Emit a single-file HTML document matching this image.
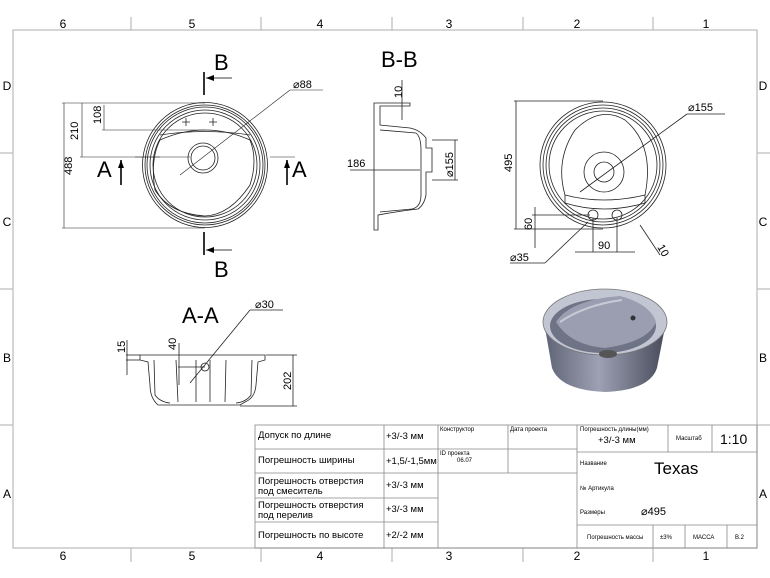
<!DOCTYPE html>
<html><head><meta charset="utf-8"><style>
html,body{margin:0;padding:0;background:#fff}
svg{display:block}
text{font-family:"Liberation Sans",sans-serif;fill:#000}
.t{font-family:"DejaVu Sans Condensed","Liberation Sans",sans-serif}
</style></head><body>
<svg width="770" height="578" viewBox="0 0 770 578" xmlns="http://www.w3.org/2000/svg">
<g stroke="#bbb" stroke-width="1.2" fill="none">
<rect x="13" y="30" width="744" height="518"/>
<line x1="131" y1="17" x2="131" y2="30"/><line x1="261" y1="17" x2="261" y2="30"/><line x1="392" y1="17" x2="392" y2="30"/><line x1="523" y1="17" x2="523" y2="30"/><line x1="653" y1="17" x2="653" y2="30"/>
<line x1="131" y1="548" x2="131" y2="562"/><line x1="261" y1="548" x2="261" y2="562"/><line x1="392" y1="548" x2="392" y2="562"/><line x1="523" y1="548" x2="523" y2="562"/><line x1="653" y1="548" x2="653" y2="562"/>
<line x1="0" y1="153" x2="13" y2="153"/><line x1="0" y1="289" x2="13" y2="289"/><line x1="0" y1="425" x2="13" y2="425"/>
<line x1="757" y1="153" x2="770" y2="153"/><line x1="757" y1="289" x2="770" y2="289"/><line x1="757" y1="425" x2="770" y2="425"/>
</g>
<g font-size="12" text-anchor="middle">
<text x="63" y="28">6</text><text x="192" y="28">5</text><text x="320" y="28">4</text><text x="449" y="28">3</text><text x="577" y="28">2</text><text x="706" y="28">1</text>
<text x="63" y="560">6</text><text x="192" y="560">5</text><text x="320" y="560">4</text><text x="449" y="560">3</text><text x="577" y="560">2</text><text x="706" y="560">1</text>
<text x="7" y="90">D</text><text x="7" y="226">C</text><text x="7" y="362">B</text><text x="7" y="498">A</text>
<text x="763" y="90">D</text><text x="763" y="226">C</text><text x="763" y="362">B</text><text x="763" y="498">A</text>
</g>

<!-- Left top view -->
<g stroke="#222" stroke-width="0.8" fill="none">
<circle cx="205" cy="165" r="62.5"/><circle cx="205" cy="165" r="60"/><circle cx="205" cy="165" r="58"/><circle cx="205" cy="165" r="55"/><circle cx="205" cy="165" r="52"/>
<path d="M160,140 Q205,120 250,140 Q258,160 250,185 Q230,215 205,216 Q170,214 155,190 Q150,160 160,140Z"/>
<path d="M160,135 Q205,128 250,135"/>
<circle cx="203" cy="158" r="15"/><circle cx="203" cy="158" r="12"/>
<path d="M186,118 v8 M182,122 h8 M213,118 v8 M209,122 h8"/>
</g>
<g stroke="#222" stroke-width="0.6" fill="none">
<line x1="62" y1="103" x2="205" y2="103"/><line x1="62" y1="228" x2="205" y2="228"/><line x1="64" y1="103" x2="64" y2="228"/>
<line x1="82" y1="103" x2="82" y2="157"/><line x1="80" y1="157" x2="190" y2="157"/>
<line x1="104" y1="105" x2="104" y2="130"/><line x1="102" y1="130" x2="205" y2="130"/>
<line x1="180" y1="175" x2="290" y2="90"/><line x1="290" y1="90" x2="323" y2="90"/>
<line x1="135" y1="157" x2="160" y2="157"/><line x1="270" y1="157" x2="295" y2="157"/>
</g>
<g stroke="#000" stroke-width="1.6"><line x1="204" y1="72" x2="204" y2="95"/><line x1="204" y1="232" x2="204" y2="255"/><line x1="121" y1="160" x2="121" y2="185"/><line x1="287" y1="160" x2="287" y2="185"/></g>
<g stroke="#000" stroke-width="0.8"><line x1="206" y1="78" x2="232" y2="78"/><line x1="206" y1="250" x2="232" y2="250"/></g>
<g fill="#000"><path d="M206,78 l8,-3 v6z"/><path d="M206,250 l8,-3 v6z"/><path d="M121,160 l-3,8 h6z"/><path d="M287,160 l-3,8 h6z"/></g>
<g font-size="22"><text x="214" y="70">B</text><text x="214" y="277">B</text><text x="97" y="177">A</text><text x="292" y="177">A</text></g>
<g font-size="11"><text x="293" y="88">⌀88</text>
<text transform="translate(72,175) rotate(-90)">488</text>
<text transform="translate(78,140) rotate(-90)">210</text>
<text transform="translate(101,124) rotate(-90)">108</text></g>

<!-- B-B -->
<text x="381" y="67" font-size="22">B-B</text>
<g stroke="#222" stroke-width="0.8" fill="none">
<path d="M374,103 L374,230 L378,230 L378,215 Q400,211 418,209 Q424,205 426,195 L426,172 L432,172 L432,148 L426,148 L426,138 Q420,130 410,128 L380,125 L380,106 L410,106 L410,103Z"/>
<path d="M380,130 L416,133 Q421,137 421,150 L421,195 Q421,207 412,209 L380,212"/>
<line x1="350" y1="170" x2="420" y2="170"/><line x1="432" y1="140" x2="458" y2="140"/><line x1="432" y1="180" x2="458" y2="180"/><line x1="455" y1="140" x2="455" y2="180"/>
<line x1="402" y1="80" x2="402" y2="120"/>
</g>
<g font-size="11"><text x="347" y="167">186</text><text transform="translate(402,98) rotate(-90)">10</text><text transform="translate(453,177) rotate(-90)">⌀155</text></g>

<!-- Right top view -->
<g stroke="#222" stroke-width="0.8" fill="none">
<circle cx="603" cy="165" r="63"/><circle cx="603" cy="165" r="60"/><circle cx="603" cy="165" r="57"/><circle cx="603" cy="165" r="54"/>
<path d="M565,195 Q555,160 575,130 Q600,105 625,120 Q655,145 645,195"/>
<path d="M565,195 Q603,205 645,195 L645,203 Q603,215 565,203Z"/>
<circle cx="604" cy="172" r="20"/><circle cx="604" cy="172" r="10"/>
<circle cx="593" cy="215" r="5"/><circle cx="617" cy="215" r="5"/>
<line x1="514" y1="101" x2="603" y2="101"/><line x1="514" y1="229" x2="603" y2="229"/><line x1="516" y1="101" x2="516" y2="229"/>
<line x1="532" y1="215" x2="590" y2="215"/><line x1="535" y1="207" x2="535" y2="248"/>
<line x1="593" y1="218" x2="593" y2="252"/><line x1="617" y1="218" x2="617" y2="252"/><line x1="575" y1="252" x2="635" y2="252"/>
<line x1="580" y1="192" x2="687" y2="114"/><line x1="687" y1="114" x2="725" y2="114"/>
<line x1="640" y1="225" x2="660" y2="255"/><line x1="588" y1="222" x2="545" y2="263"/><line x1="510" y1="263" x2="545" y2="263"/>
</g>
<g font-size="11"><text x="688" y="111">⌀155</text><text transform="translate(512,172) rotate(-90)">495</text><text transform="translate(532,230) rotate(-90)">60</text><text x="598" y="249">90</text><text transform="translate(657,247) rotate(60)">10</text><text x="510" y="261">⌀35</text></g>

<!-- 3D render -->
<defs><linearGradient id="g1" x1="0" x2="1"><stop offset="0" stop-color="#5e6275"/><stop offset="0.45" stop-color="#9da1b3"/><stop offset="1" stop-color="#464a5a"/></linearGradient></defs>
<path d="M544,322 L552,368 Q560,390 605,392 Q650,390 657,368 L666,322Z" fill="url(#g1)"/>
<ellipse cx="605" cy="322" rx="62" ry="33" fill="#c2c5d2" stroke="#777" stroke-width="0.8"/>
<ellipse cx="603" cy="326" rx="53" ry="27" fill="#6f7386"/>
<path d="M556,322 Q570,300 620,296 Q650,304 656,322 Q648,342 605,348 Q570,345 556,322Z" fill="#9a9eb0"/>
<path d="M560,322 Q585,305 622,300" stroke="#c8cbd6" fill="none" stroke-width="2"/>
<circle cx="633" cy="318" r="2.5" fill="#333"/>
<ellipse cx="608" cy="354" rx="9" ry="4" fill="#555"/>

<!-- A-A -->
<text x="182" y="323" font-size="22">A-A</text>
<g stroke="#222" stroke-width="0.8" fill="none">
<path d="M140,355 L265,355 L265,360 L258,362 L256,385 Q255,398 245,402 L240,405 L158,405 Q150,398 150,385 L148,362 L140,360Z"/>
<path d="M154,360 L155,395 Q160,402 170,403 M252,360 L251,395 Q246,402 236,403"/>
<path d="M176,360 L178,402 M226,360 L225,402 M196,360 L196,402 M210,360 L210,402"/>
<circle cx="205" cy="367" r="4"/>
<line x1="266" y1="355" x2="297" y2="355"/><line x1="240" y1="406" x2="297" y2="406"/><line x1="293" y1="355" x2="293" y2="406"/>
<line x1="126" y1="355" x2="140" y2="355"/><line x1="126" y1="360" x2="140" y2="360"/><line x1="127" y1="340" x2="127" y2="375"/>
<line x1="179" y1="343" x2="179" y2="385"/><line x1="178" y1="367" x2="205" y2="367"/>
<line x1="190" y1="383" x2="250" y2="310"/><line x1="250" y1="310" x2="283" y2="310"/>
</g>
<g font-size="11"><text x="255" y="308">⌀30</text><text transform="translate(125,353) rotate(-90)">15</text><text transform="translate(176,350) rotate(-90)">40</text><text transform="translate(291,390) rotate(-90)">202</text></g>

<!-- Title block -->
<g stroke="#888" stroke-width="0.8" fill="none">
<rect x="255" y="425" width="502" height="123"/>
<line x1="255" y1="449" x2="384" y2="449"/><line x1="255" y1="473" x2="384" y2="473"/><line x1="255" y1="498" x2="384" y2="498"/><line x1="255" y1="522" x2="384" y2="522"/>
<line x1="384" y1="449" x2="438" y2="449"/><line x1="384" y1="473" x2="438" y2="473"/><line x1="384" y1="498" x2="438" y2="498"/><line x1="384" y1="522" x2="438" y2="522"/>
<line x1="384" y1="425" x2="384" y2="548"/><line x1="438" y1="425" x2="438" y2="548"/>
<line x1="508" y1="425" x2="508" y2="473"/><line x1="438" y1="449" x2="577" y2="449"/><line x1="438" y1="473" x2="577" y2="473"/>
<line x1="577" y1="425" x2="577" y2="548"/>
<line x1="577" y1="452" x2="757" y2="452"/><line x1="668" y1="425" x2="668" y2="452"/><line x1="712" y1="425" x2="712" y2="452"/>
<line x1="577" y1="525" x2="757" y2="525"/><line x1="653" y1="525" x2="653" y2="548"/><line x1="685" y1="525" x2="685" y2="548"/><line x1="727" y1="525" x2="727" y2="548"/>
</g>
<g class="t" font-size="9.5">
<text x="258" y="438">Допуск по длине</text>
<text x="258" y="463">Погрешность ширины</text>
<text x="258" y="484">Погрешность отверстия</text><text x="258" y="494">под смеситель</text>
<text x="258" y="508">Погрешность отверстия</text><text x="258" y="518">под перелив</text>
<text x="258" y="538">Погрешность по высоте</text>
<text x="386" y="439">+3/-3 мм</text><text x="386" y="464">+1,5/-1,5мм</text><text x="386" y="488">+3/-3 мм</text><text x="386" y="512">+3/-3 мм</text><text x="386" y="538">+2/-2 мм</text>
<text x="598" y="443">+3/-3 мм</text>
</g>
<g class="t" font-size="6">
<text x="440" y="431">Конструктор</text><text x="510" y="431">Дата проекта</text>
<text x="440" y="455">ID проекта</text><text x="457" y="462">06.07</text>
<text x="580" y="431">Погрешность длины(мм)</text>
<text x="676" y="440">Масштаб</text>
<text x="580" y="465">Название</text><text x="580" y="490">№ Артикула</text><text x="580" y="514">Размеры</text>
<text x="587" y="539">Погрешность массы</text><text x="660" y="539">±3%</text><text x="693" y="539">МАССА</text><text x="735" y="539">В.2</text>
</g>
<text x="720" y="444" font-size="14">1:10</text>
<text x="654" y="474" font-size="17">Texas</text>
<text x="641" y="515" font-size="11">⌀495</text>
</svg>
</body></html>
